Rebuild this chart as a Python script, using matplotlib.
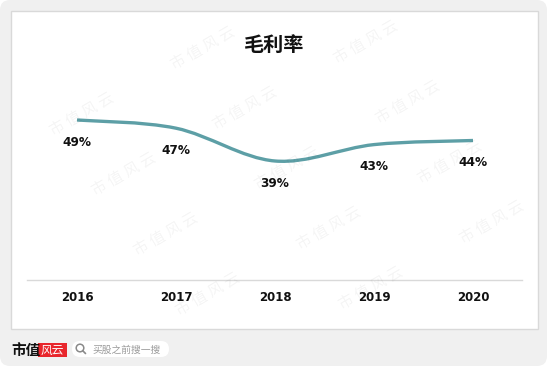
import matplotlib
matplotlib.use("Agg")
import matplotlib.pyplot as plt
from matplotlib.path import Path
from matplotlib.patches import PathPatch, FancyBboxPatch, Rectangle, Circle

plt.rcParams['font.family'] = ['Noto Sans CJK SC', 'DejaVu Sans']

# data
years = ['2016', '2017', '2018', '2019', '2020']
margin = [49, 47, 39, 43, 44]
title = '毛利率'

teal = '#5d9fa6'

W, H = 550, 366
fig = plt.figure(figsize=(W / 100, H / 100), dpi=100, facecolor='white')

# background layer in pixel coords
bg = fig.add_axes([0, 0, 1, 1])
bg.set_xlim(0, W)
bg.set_ylim(H, 0)
bg.axis('off')
bg.add_patch(FancyBboxPatch((0, 0), 547, 366, boxstyle='round,pad=0,rounding_size=10',
                            fc='#f0f0f0', ec='none'))
bg.add_patch(Rectangle((11, 11), 527, 318, fc='white', ec='#d9d9d9', lw=1))

# footer
bg.text(11, 350, '市值', fontsize=10.5, fontweight='bold', color='#111111', va='center', ha='left')
bg.add_patch(Rectangle((38, 343), 29, 14, fc='#e8262c', ec='none'))
bg.text(52.5, 350, '风云', fontsize=8.5, color='white', va='center', ha='center', style='italic')
bg.add_patch(FancyBboxPatch((72, 341), 97, 16, boxstyle='round,pad=0,rounding_size=8',
                            fc='white', ec='none'))
bg.add_patch(Circle((80, 348), 3.8, fc='none', ec='#8a8a8a', lw=1.1))
bg.plot([82.7, 85.5], [350.7, 353.5], color='#8a8a8a', lw=1.2, solid_capstyle='round')
bg.text(92, 349.5, '买股之前搜一搜', fontsize=7, color='#9a9a9a', va='center', ha='left')

# chart axes over the white panel
x0, x1, yt, yb = 11, 538, 11, 329
ax = fig.add_axes([x0 / W, 1 - yb / H, (x1 - x0) / W, (yb - yt) / H])
ax.patch.set_alpha(0)
for s in ax.spines.values():
    s.set_visible(False)
ax.set_xticks([])
ax.set_yticks([])

px_per_x = 99.0
px_per_y = 4.1
ax.set_xlim((x0 - 77) / px_per_x, (x1 - 77) / px_per_x)
ax.set_ylim(49 - (yb - 120) / px_per_y, 49 + (120 - yt) / px_per_y)

xs = list(range(len(years)))

# smooth line through the points (catmull-rom as bezier)
verts = [(xs[0], margin[0])]
codes = [Path.MOVETO]
n = len(xs)
for i in range(n - 1):
    p0 = (xs[max(i - 1, 0)], margin[max(i - 1, 0)])
    p1 = (xs[i], margin[i])
    p2 = (xs[i + 1], margin[i + 1])
    p3 = (xs[min(i + 2, n - 1)], margin[min(i + 2, n - 1)])
    c1 = (p1[0] + (p2[0] - p0[0]) / 6, p1[1] + (p2[1] - p0[1]) / 6)
    c2 = (p2[0] - (p3[0] - p1[0]) / 6, p2[1] - (p3[1] - p1[1]) / 6)
    verts += [c1, c2, p2]
    codes += [Path.CURVE4] * 3
ax.add_patch(PathPatch(Path(verts, codes), fc='none', ec=teal, lw=2.4, capstyle='butt'))

for x, v in zip(xs, margin):
    ax.annotate(f'{v}%', (x, v), xytext=(0, -16), textcoords='offset points',
                ha='center', va='center', fontsize=8.7, fontweight='bold',
                family='DejaVu Sans', color='#111111')

# axis line and year labels
tr = ax.get_xaxis_transform()
ax.plot([0.030, 0.970], [0.154, 0.154], transform=ax.transAxes, color='#d9d9d9', lw=1)
for x, yr in zip(xs, years):
    ax.text(x, 0.098, yr, transform=tr, ha='center', va='center', fontsize=8.5,
            fontweight='bold', family='DejaVu Sans', color='#111111')

ax.text(0.5, 0.896, title, transform=ax.transAxes, ha='center', va='center',
        fontsize=14.5, fontweight='heavy', color='#111111')

# watermark (only copies that fit inside the picture)
for r in range(-2, 7):
    for c in range(-1, 5):
        wx = 40 + 163 * c + 42 * r
        wy = 54 - 6 * c + 60 * r
        if 45 < wx < 505 and 30 < wy < 336:
            fig.text(wx / W, 1 - wy / H, '市 值 风 云', fontsize=11, fontweight='light',
                     color='#000000', alpha=0.045, rotation=30, ha='center', va='center',
                     zorder=10)

fig.savefig('out.png', dpi=100, facecolor='white')
